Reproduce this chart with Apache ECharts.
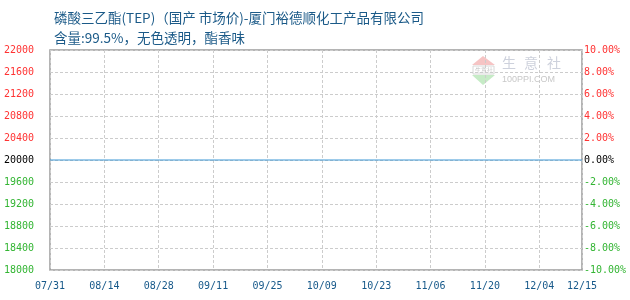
<!DOCTYPE html>
<html>
<head>
<meta charset="utf-8">
<script src="https://cdn.jsdelivr.net/npm/echarts@6/dist/echarts.min.js"></script>
<style>html,body{margin:0;padding:0;background:#fff;}#c{width:630px;height:300px;}</style>
</head>
<body>
<div id="c"></div>
<script>
// ---- data ----
const titleLine1 = '磷酸三乙酯(TEP)（国产 市场价)-厦门裕德顺化工产品有限公司';
const titleLine2 = '含量:99.5%，无色透明，酯香味';
const priceDates = ['2025-07-31', '2025-12-15'];
const prices = [20000, 20000];
const tickDates = ['2025-07-31', '2025-08-14', '2025-08-28', '2025-09-11', '2025-09-25', '2025-10-09',
                   '2025-10-23', '2025-11-06', '2025-11-20', '2025-12-04', '2025-12-15'];
const leftMin = 18000, leftMax = 22000, leftStep = 400, basePrice = 20000;
const rightMin = -10, rightMax = 10, rightStep = 2;

const DAY = 86400000;
const t0 = Date.UTC(2025, 6, 31);
const dayOf = s => { const p = s.split('-').map(Number); return Math.round((Date.UTC(p[0], p[1] - 1, p[2]) - t0) / DAY); };
const fmtDay = d => { const dt = new Date(t0 + d * DAY); return String(dt.getUTCMonth() + 1).padStart(2, '0') + '/' + String(dt.getUTCDate()).padStart(2, '0'); };
const tickVals = tickDates.map(dayOf);

const chart = echarts.init(document.getElementById('c'), null, {renderer: 'canvas'});
const labelFont = 'DejaVu Sans Mono';
const red = '#ff3333', green = '#33b533', black = '#000000';

chart.setOption({
  animation: false,
  backgroundColor: '#ffffff',
  title: [
    {text: titleLine1, left: 49, top: 6, textStyle: {fontSize: 13.5, fontWeight: 'normal', color: '#1b5a88', fontFamily: 'Noto Sans CJK SC'}},
    {text: titleLine2, left: 49, top: 26, textStyle: {fontSize: 13.5, fontWeight: 'normal', color: '#1b5a88', fontFamily: 'Noto Sans CJK SC'}}
  ],
  graphic: [
    {type: 'polygon', shape: {points: [[483, 56], [472, 65], [495, 65]]}, style: {fill: '#f6c4c4'}, silent: true},
    {type: 'rect', shape: {x: 473, y: 66, width: 21, height: 8}, style: {fill: 'none', stroke: '#d8d8d8', lineWidth: 1}, silent: true},
    {type: 'text', x: 483.5, y: 70, style: {text: '生意社', fontSize: 6, fill: '#c0c0c0', align: 'center', verticalAlign: 'middle'}, silent: true},
    {type: 'polygon', shape: {points: [[472, 75], [495, 75], [483, 85]]}, style: {fill: '#c6ebc6'}, silent: true},
    {type: 'text', x: 502, y: 63, style: {text: '生', fontSize: 14, fill: '#cdd1dc', verticalAlign: 'middle', fontFamily: 'Noto Sans CJK SC'}, silent: true},
    {type: 'text', x: 524, y: 63, style: {text: '意', fontSize: 14, fill: '#cdd1dc', verticalAlign: 'middle', fontFamily: 'Noto Sans CJK SC'}, silent: true},
    {type: 'text', x: 547, y: 63, style: {text: '社', fontSize: 14, fill: '#cdd1dc', verticalAlign: 'middle', fontFamily: 'Noto Sans CJK SC'}, silent: true},
    {type: 'text', x: 502, y: 80, style: {text: '100PPI.COM', fontSize: 9, fill: '#c8c8c8', verticalAlign: 'middle', fontFamily: 'Liberation Sans'}, silent: true}
  ],
  grid: {left: 50, right: 48, top: 50, bottom: 30, show: true, borderColor: '#9c9c9c', borderWidth: 1.5, backgroundColor: 'transparent'},
  xAxis: {
    type: 'value',
    min: tickVals[0],
    max: tickVals[tickVals.length - 1],
    axisLine: {show: false},
    axisTick: {show: false, customValues: tickVals},
    splitLine: {show: true, lineStyle: {color: '#cccccc', type: [3, 2], width: 1}},
    axisLabel: {
      customValues: tickVals,
      margin: 11,
      fontSize: 10,
      fontFamily: labelFont,
      color: '#17598a',
      hideOverlap: false,
      formatter: v => fmtDay(Number(v))
    }
  },
  yAxis: [
    {
      type: 'value', min: leftMin, max: leftMax, interval: leftStep, position: 'left',
      axisLine: {show: false}, axisTick: {show: false},
      splitLine: {show: true, lineStyle: {color: '#cccccc', type: [3, 2], width: 1}},
      axisLabel: {
        margin: 16, fontSize: 10, fontFamily: labelFont,
        formatter: v => String(Math.round(Number(v))),
        color: v => (Number(v) > basePrice ? red : Number(v) < basePrice ? green : black)
      }
    },
    {
      type: 'value', min: rightMin, max: rightMax, interval: rightStep, position: 'right',
      axisLine: {show: false}, axisTick: {show: false}, splitLine: {show: false},
      axisLabel: {
        margin: 2, fontSize: 10, fontFamily: labelFont,
        formatter: v => Number(v).toFixed(2) + '%',
        color: v => (Number(v) > 0 ? red : Number(v) < 0 ? green : black)
      }
    }
  ],
  series: [{
    type: 'line',
    data: priceDates.map((d, i) => [dayOf(d), prices[i]]),
    showSymbol: false,
    symbol: 'none',
    lineStyle: {color: '#3d97d6', width: 1.2},
    z: 5
  }]
});
</script>
</body>
</html>
